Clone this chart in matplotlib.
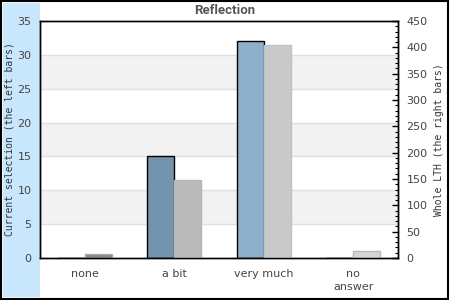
import matplotlib
matplotlib.use('Agg')
import matplotlib.pyplot as plt
from matplotlib.patches import Rectangle
from matplotlib.ticker import MultipleLocator

categories = ['none', 'a bit', 'very much', 'no\nanswer']
current = [0, 15.1, 32.0, 0]
whole = [7, 148, 405, 13]

left_colors = ['#7493ad', '#7493ad', '#8fb0cb', '#8fb0cb']
right_colors = ['#888888', '#bbbbbb', '#c9c9c9', '#d6d6d6']
right_edges = ['#aaaaaa', '#b5b5b5', '#c2c2c2', '#b8b8b8']

fig = plt.figure(figsize=(4.5, 3), dpi=100)
fig.patch.set_facecolor('white')
fig.patches.append(Rectangle((3 / 450, 3 / 300), 37 / 450, 294 / 300,
                             transform=fig.transFigure, facecolor='#c8e7fc',
                             edgecolor='none', zorder=-10))
fig.patches.append(Rectangle((0.002, 0.003), 0.993, 0.994,
                             transform=fig.transFigure, facecolor='none',
                             edgecolor='black', lw=1.5, zorder=-9))

ax = fig.add_axes([40 / 450, 42 / 300, 358 / 450, 237 / 300])
ax.set_facecolor('white')
for lo in (5, 15, 25):
    ax.axhspan(lo, lo + 5, color='#f2f2f2', zorder=0, lw=0)
for y in range(5, 35, 5):
    ax.axhline(y, color='#e0e0e0', lw=1, zorder=0.5)

x = list(range(len(categories)))
w = 0.30
ax.bar([i - w / 2 for i in x], current, width=w, color=left_colors,
       edgecolor='black', linewidth=1, zorder=2)
ax.set_ylim(0, 35)
ax.set_xlim(-0.5, 3.5)
ax.yaxis.set_major_locator(MultipleLocator(5))
ax.set_xticks(x)
ax.set_xticklabels(categories, linespacing=1.3)
ax.tick_params(axis='y', length=0, pad=6, labelsize=8, labelcolor='#444444')
ax.tick_params(axis='x', length=0, pad=8, labelsize=8, labelcolor='#444444')
ax.set_ylabel('Current selection (the left bars)', family='DejaVu Sans Mono',
              fontsize=7, color='#333333')
ax.yaxis.set_label_coords(-25 / 358, 0.5)

ax2 = ax.twinx()
ax2.bar([i + w / 2 for i in x], whole, width=w, color=right_colors,
        edgecolor=right_edges, linewidth=1, zorder=2)
ax2.set_ylim(0, 450)
ax2.yaxis.set_major_locator(MultipleLocator(50))
ax2.yaxis.set_minor_locator(MultipleLocator(10))
ax2.tick_params(axis='y', which='major', direction='in', length=4, width=1,
                pad=6, labelsize=8, labelcolor='#444444')
ax2.tick_params(axis='y', which='minor', direction='in', length=2, width=0.8)
ax2.set_ylabel('Whole LTH (the right bars)', family='DejaVu Sans Mono',
               fontsize=7, color='#333333')
ax2.yaxis.set_label_coords(1 + 36 / 358, 0.5)

for a in (ax, ax2):
    for s in a.spines.values():
        s.set_color('black')
        s.set_linewidth(1)

fig.text(0.5, 1 - 11 / 300, 'Reflection', ha='center', va='center',
         family='Roboto', weight='bold', fontsize=9.5, color='#555555')

fig.savefig('out.png', dpi=100)
